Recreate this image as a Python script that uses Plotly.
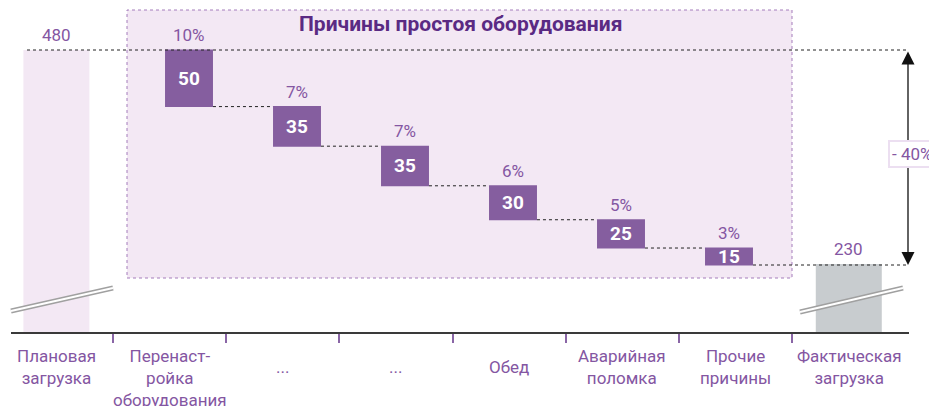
import plotly.graph_objects as go

# ---------------- data ----------------
categories = ["Плановая<br>загрузка", "Перенаст-<br>ройка<br>оборудования", "...", "...",
              "Обед", "Аварийная<br>поломка", "Прочие<br>причины", "Фактическая<br>загрузка"]
planned = 480
actual = 230
loss_values = [50, 35, 35, 30, 25, 15]
loss_pct = ["10%", "7%", "7%", "6%", "5%", "3%"]
total_pct_label = "- 40%"
section_title = "Причины простоя оборудования"

# ---------------- style ----------------
PURPLE = "#855E9F"
TEXT_PURPLE = "#8456A2"
TITLE_PURPLE = "#5A2A83"
LIGHT = "#F3E8F4"
GRAY = "#C8CCCF"
FONT = "Roboto"

# page has an 8px body margin; figure is sized to fill the rest of the window
OFF = 8
W, H = 937 - OFF, 406 - OFF
PLOT_L, PLOT_R, PLOT_T, PLOT_B = 11, 909, 8, 332          # page pixels
ML, MR = PLOT_L - OFF, W - (PLOT_R - OFF)
MT, MB = PLOT_T - OFF, H - (PLOT_B - OFF)
plot_w = PLOT_R - PLOT_L
plot_h = PLOT_B - PLOT_T


def px_x(p):
    return (p - PLOT_L) / plot_w


def px_y(p):
    return (PLOT_B - p) / plot_h


fig = go.Figure()

# side bars (planned / actual) on broken axis y2
fig.add_trace(go.Bar(
    x=[0, len(categories) - 1], y=[planned, actual],
    marker=dict(color=[LIGHT, GRAY], line=dict(width=0)),
    width=0.583, xaxis="x", yaxis="y2", hoverinfo="skip", showlegend=False,
))

# waterfall of losses
fig.add_trace(go.Waterfall(
    x=list(range(len(loss_values))),
    base=planned,
    measure=["relative"] * len(loss_values),
    y=[-v for v in loss_values],
    text=[str(v) for v in loss_values],
    textinfo="text",
    textposition="inside",
    insidetextanchor="middle",
    textangle=0,
    constraintext="none",
    textfont=dict(family=FONT, size=19, color="white", weight="bold"),
    decreasing=dict(marker=dict(color=PURPLE, line=dict(width=0))),
    connector=dict(mode="between", line=dict(color="#222", width=1, dash="dot")),
    width=0.444,
    xaxis="x2", yaxis="y", hoverinfo="skip", showlegend=False,
))

annotations = []
shapes = []

# highlight area
shapes.append(dict(type="rect", xref="paper", yref="paper",
                   x0=px_x(127), x1=px_x(792), y0=px_y(278), y1=px_y(10),
                   fillcolor=LIGHT, line=dict(color="#A47DBB", width=1, dash="dot"),
                   layer="below"))

annotations.append(dict(xref="paper", yref="paper", x=px_x(460), y=px_y(24),
                        xanchor="center", yanchor="middle",
                        text=f"<b>{section_title}</b>", showarrow=False,
                        font=dict(family=FONT, size=21, color=TITLE_PURPLE)))

# percent labels above loss bars
level = planned
for i, (v, p) in enumerate(zip(loss_values, loss_pct)):
    annotations.append(dict(xref="x2", yref="y", x=i, y=level, text=p, showarrow=False,
                            xanchor="center", yanchor="bottom", yshift=3,
                            font=dict(family=FONT, size=17, color=TEXT_PURPLE)))
    level -= v
end_level = level

# value labels of side bars
for xi, val in [(0, planned), (len(categories) - 1, actual)]:
    annotations.append(dict(xref="x", yref="y2", x=xi, y=val, text=str(val), showarrow=False,
                            xanchor="center", yanchor="bottom", yshift=3,
                            font=dict(family=FONT, size=17, color=TEXT_PURPLE)))

# dotted reference lines
shapes.append(dict(type="line", xref="paper", yref="y", x0=px_x(27), x1=px_x(908),
                   y0=planned, y1=planned, line=dict(color="#222", width=1, dash="dot")))
shapes.append(dict(type="line", xref="paper", yref="y", x0=px_x(753), x1=px_x(908),
                   y0=end_level, y1=end_level, line=dict(color="#222", width=1, dash="dot")))

# double arrow
annotations.append(dict(xref="paper", yref="y", x=px_x(908), y=end_level,
                        axref="pixel", ayref="y", ax=0, ay=planned, text="",
                        showarrow=True, arrowhead=2, startarrowhead=2, arrowside="end+start",
                        arrowsize=2.0, startarrowsize=2.0, arrowwidth=1.3, arrowcolor="#111",
                        standoff=0, startstandoff=0))
annotations.append(dict(xref="paper", yref="paper", x=px_x(912), y=px_y(154),
                        xanchor="center", yanchor="middle",
                        text=total_pct_label, showarrow=False, bgcolor="white",
                        bordercolor="#ECDFF1", borderwidth=2, borderpad=2,
                        font=dict(family=FONT, size=17, color=TEXT_PURPLE)))

# break marks
for (a, b, c, d) in [(11, 311, 113, 288), (800, 312, 903, 288)]:
    shapes.append(dict(type="line", xref="paper", yref="paper", x0=px_x(a), y0=px_y(b),
                       x1=px_x(c), y1=px_y(d), line=dict(color="#A0A0A0", width=5)))
    shapes.append(dict(type="line", xref="paper", yref="paper", x0=px_x(a), y0=px_y(b),
                       x1=px_x(c), y1=px_y(d), line=dict(color="white", width=2)))

# category labels
for i, lab in enumerate(categories):
    n_lines = lab.count("<br>") + 1
    annotations.append(dict(xref="x", yref="paper", x=i, y=0, text=lab, showarrow=False,
                            xanchor="center", yanchor="top",
                            yshift=-12 - (11 if n_lines == 1 else 0),
                            font=dict(family=FONT, size=17, color=TEXT_PURPLE)))

# axis ranges derived from page pixel anchors: planned at y=50, loss end at y=265, actual at y=264
wf_scale = (265 - 50) / sum(loss_values)      # px per unit for waterfall
side_scale = (264 - 50) / (planned - actual)  # px per unit for side bars
y_range = [planned - (PLOT_B - 50) / wf_scale, planned + (50 - PLOT_T) / wf_scale]
y2_range = [planned - (PLOT_B - 50) / side_scale, planned + (50 - PLOT_T) / side_scale]

fig.update_layout(
    width=W, height=H,
    margin=dict(l=ML, r=MR, t=MT, b=MB, autoexpand=False),
    paper_bgcolor="white", plot_bgcolor="rgba(0,0,0,0)",
    barmode="overlay",
    xaxis=dict(type="linear", range=[-0.401, 7.532], showgrid=False, zeroline=False,
               showline=True, linecolor="#3A3A3A", linewidth=1.5,
               tickmode="array", tickvals=[i + 0.5 for i in range(len(categories) - 1)],
               ticks="outside", ticklen=9, tickwidth=1.5, tickcolor="#8A66A6",
               showticklabels=False, fixedrange=True),
    xaxis2=dict(type="linear", range=[-0.5, len(loss_values) - 0.5],
                domain=[px_x(135), px_x(783)], anchor="y",
                visible=False, fixedrange=True),
    yaxis=dict(range=y_range, visible=False, fixedrange=True),
    yaxis2=dict(range=y2_range, visible=False, overlaying="y", fixedrange=True),
    annotations=annotations,
    shapes=shapes,
    font=dict(family=FONT),
)

fig.write_html("out.html")
